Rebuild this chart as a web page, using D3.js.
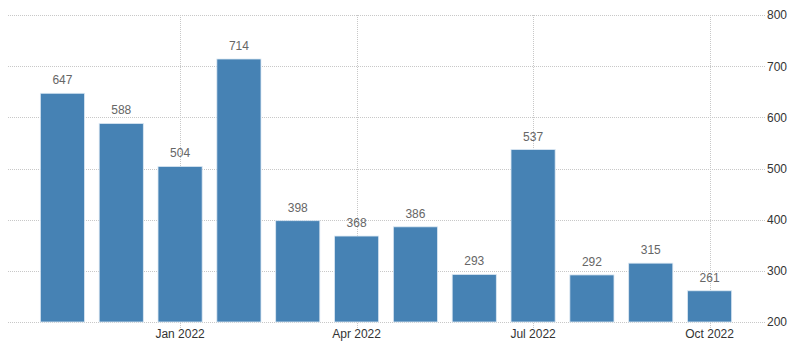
<!DOCTYPE html>
<html>
<head>
<meta charset="utf-8">
<script src="https://cdn.jsdelivr.net/npm/d3@7"></script>
<style>
  html, body { margin: 0; padding: 0; background: #fff; }
  svg { display: block; }
</style>
</head>
<body>
<svg id="chart" width="800" height="356"></svg>
<script>
const months = ["Nov 2021","Dec 2021","Jan 2022","Feb 2022","Mar 2022","Apr 2022","May 2022","Jun 2022","Jul 2022","Aug 2022","Sep 2022","Oct 2022"];
const values = [647, 588, 504, 714, 398, 368, 386, 293, 537, 292, 315, 261];
const xTickLabels = ["Jan 2022","Apr 2022","Jul 2022","Oct 2022"];
const yTicks = [200, 300, 400, 500, 600, 700, 800];

const svg = d3.select("#chart");
const W = 800, H = 356;
const gridLeft = 8, gridRight = 765;

const x = d3.scaleBand().domain(months).range([33, 739]).paddingInner(0.25).paddingOuter(0.125);
const y = d3.scaleLinear().domain([200, 800]).range([322, 15]);

const font = "'Liberation Sans', Arial, sans-serif";

// horizontal grid
svg.append("g").selectAll("line").data(yTicks).join("line")
  .attr("x1", gridLeft).attr("x2", gridRight)
  .attr("y1", d => Math.round(y(d)) + 0.5).attr("y2", d => Math.round(y(d)) + 0.5)
  .attr("stroke", "#c8c8c8").attr("stroke-width", 1).attr("stroke-dasharray", "1,1");

// vertical grid
svg.append("g").selectAll("line").data(xTickLabels).join("line")
  .attr("x1", d => Math.round(x(d) + x.bandwidth()/2) + 0.5)
  .attr("x2", d => Math.round(x(d) + x.bandwidth()/2) + 0.5)
  .attr("y1", y(800)).attr("y2", y(200) + 6)
  .attr("stroke", "#c8c8c8").attr("stroke-width", 1).attr("stroke-dasharray", "1,1");

// bars
svg.append("g").selectAll("rect").data(months).join("rect")
  .attr("x", d => x(d))
  .attr("width", x.bandwidth())
  .attr("y", (d, i) => y(values[i]))
  .attr("height", (d, i) => y(200) - y(values[i]))
  .attr("fill", "#4682b4")
  .attr("stroke", "#dbe8f3").attr("stroke-width", 0.8);

// value labels
svg.append("g").selectAll("text").data(months).join("text")
  .attr("x", d => x(d) + x.bandwidth()/2)
  .attr("y", (d, i) => y(values[i]) - 9)
  .attr("text-anchor", "middle")
  .attr("font-family", font).attr("font-size", 12)
  .attr("fill", "#666")
  .text((d, i) => values[i]);

// y axis labels (right)
const yAxis = d3.axisRight(y).tickValues(yTicks).tickSize(0).tickPadding(0);
const ya = svg.append("g").attr("transform", `translate(767,0)`).call(yAxis);
ya.select(".domain").remove();
ya.selectAll("text").attr("font-family", font).attr("font-size", 12).attr("fill", "#333");

// x axis labels
const xAxis = d3.axisBottom(x).tickValues(xTickLabels).tickSize(0).tickPadding(0);
const xa = svg.append("g").attr("transform", `translate(0,329)`).call(xAxis);
xa.select(".domain").remove();
xa.selectAll("text").attr("font-family", font).attr("font-size", 12).attr("fill", "#333");
</script>
</body>
</html>
